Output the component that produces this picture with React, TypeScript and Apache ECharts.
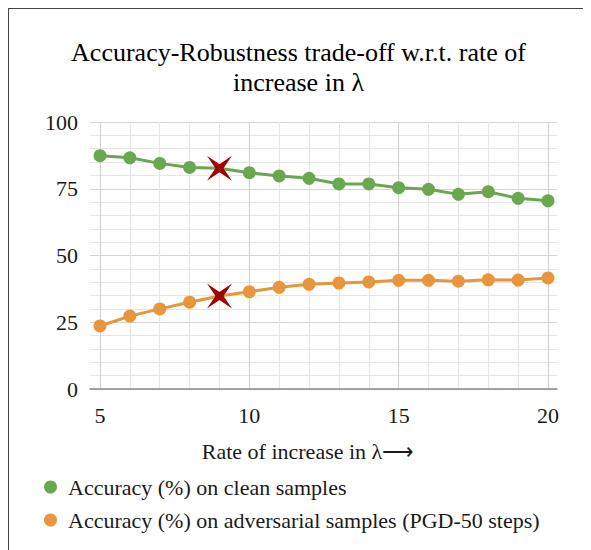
import React, { useEffect, useRef } from "react";
import * as echarts from "echarts";

const lambdas = [5, 6, 7, 8, 9, 10, 11, 12, 13, 14, 15, 16, 17, 18, 19, 20];
const cleanAcc = [87.4, 86.6, 84.5, 83.0, 82.7, 81.0, 79.8, 78.9, 76.8, 76.8, 75.4, 74.8, 72.9, 73.9, 71.4, 70.5];
const advAcc = [23.6, 27.3, 30.0, 32.5, 34.8, 36.4, 38.1, 39.2, 39.7, 40.1, 40.7, 40.7, 40.4, 40.9, 40.8, 41.6];
const highlightLambda = 9;
const seriesNames = [
  "Accuracy (%) on clean samples",
  "Accuracy (%) on adversarial samples (PGD-50 steps)",
];
const titleText = "Accuracy-Robustness trade-off w.r.t. rate of\nincrease in λ";
const xTitle = "Rate of increase in λ⟶";

const STAR = "path://M-1,-1 L0,-0.32 L1,-1 L0.32,0 L1,1 L0,0.32 L-1,1 L-0.32,0 Z";
const FONT = "'Liberation Serif', 'Times New Roman', serif";

function buildData(values: number[]) {
  return lambdas.map((x, i) =>
    x === highlightLambda
      ? {
          value: [x, values[i]],
          symbol: STAR,
          symbolSize: 25,
          itemStyle: { color: "#A00000" },
          z: 10,
        }
      : [x, values[i]]
  );
}

export default function App() {
  const ref = useRef<HTMLDivElement>(null);
  useEffect(() => {
    if (!ref.current) return;
    const chart = echarts.init(ref.current, null, { renderer: "svg" });
    const green = "#6AA84F";
    const orange = "#E9953B";
    chart.setOption({
      animation: false,
      backgroundColor: "#fff",
      title: {
        text: titleText,
        left: "center",
        top: 28,
        padding: 0,
        textStyle: {
          fontFamily: FONT,
          fontSize: 26,
          fontWeight: "normal",
          color: "#000",
          lineHeight: 30,
        },
      },
      grid: [
        { left: 81, right: 31, top: 113, bottom: 180 },
        { left: 91, right: 40, top: 113, bottom: 180 },
      ],
      xAxis: [
        {
          gridIndex: 0,
          type: "value",
          min: 0,
          max: 1,
          axisLine: { show: true, lineStyle: { color: "#8a8a8a", width: 1.5 } },
          axisTick: { show: false },
          axisLabel: { show: false },
          splitLine: { show: false },
        },
        {
          gridIndex: 1,
          type: "value",
          min: 5,
          max: 20,
          interval: 5,
          axisLine: { show: false },
          axisTick: { show: false },
          axisLabel: {
            margin: 15,
            fontFamily: FONT,
            fontSize: 22,
            color: "#1a1a1a",
          },
          splitLine: { show: true, lineStyle: { color: "#d4d4d4", width: 1.2 } },
          minorTick: { show: false, splitNumber: 5 },
          minorSplitLine: { show: true, lineStyle: { color: "#e6e6e6", width: 1.2 } },
        },
      ],
      yAxis: [
        {
          gridIndex: 0,
          type: "value",
          min: 0,
          max: 100,
          interval: 25,
          axisLine: { show: false },
          axisTick: { show: false },
          axisLabel: {
            margin: 12,
            fontFamily: FONT,
            fontSize: 22,
            color: "#1a1a1a",
          },
          splitLine: { show: true, lineStyle: { color: "#d4d4d4", width: 1.2 } },
          minorTick: { show: false, splitNumber: 5 },
          minorSplitLine: { show: true, lineStyle: { color: "#e6e6e6", width: 1.2 } },
        },
        {
          gridIndex: 1,
          type: "value",
          min: 0,
          max: 100,
          show: false,
          splitLine: { show: false },
        },
      ],
      legend: {
        orient: "vertical",
        left: 35,
        top: 467,
        padding: 0,
        itemGap: 11,
        itemWidth: 13,
        itemHeight: 13,
        icon: "circle",
        textStyle: { fontFamily: FONT, fontSize: 22, color: "#1a1a1a", padding: [0, 0, 0, 6] },
        data: seriesNames,
      },
      graphic: [
        {
          type: "text",
          x: 299,
          y: 442,
          style: {
            text: xTitle,
            font: `22px ${FONT}`,
            fill: "#1a1a1a",
            align: "center",
            verticalAlign: "middle",
          },
        },
      ],
      series: [
        {
          name: seriesNames[0],
          type: "line",
          xAxisIndex: 1,
          yAxisIndex: 1,
          data: buildData(cleanAcc),
          symbol: "circle",
          symbolSize: 13,
          color: green,
          itemStyle: { color: green },
          lineStyle: { color: green, width: 3 },
        },
        {
          name: seriesNames[1],
          type: "line",
          xAxisIndex: 1,
          yAxisIndex: 1,
          data: buildData(advAcc),
          symbol: "circle",
          symbolSize: 13,
          color: orange,
          itemStyle: { color: orange },
          lineStyle: { color: orange, width: 3 },
        },
      ],
    });
    return () => chart.dispose();
  }, []);
  return (
    <div style={{ border: "1px solid #444", width: 579 }}>
      <div ref={ref} style={{ width: 579, height: 560 }} />
    </div>
  );
}
